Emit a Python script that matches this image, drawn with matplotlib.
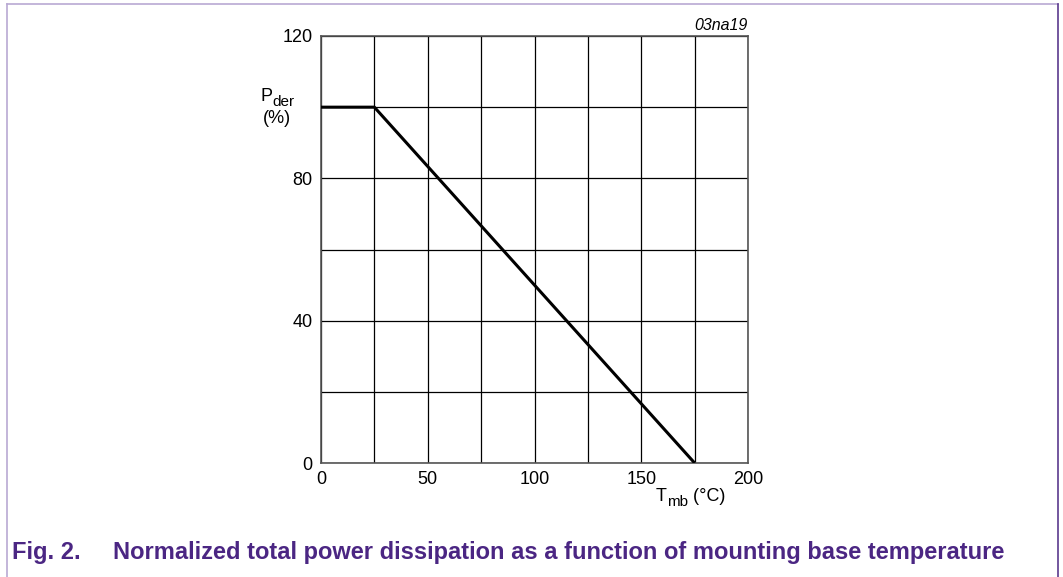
import matplotlib
matplotlib.use("Agg")
import matplotlib.pyplot as plt
from matplotlib.lines import Line2D

plt.rcParams['font.family'] = ['Liberation Sans', 'DejaVu Sans']

# Data
tmb = [0, 25, 175]
pder = [100, 100, 0]
x_ticks = [0, 50, 100, 150, 200]
y_ticks = [0, 40, 80, 120]
x_grid = [0, 25, 50, 75, 100, 125, 150, 175, 200]
y_grid = [0, 20, 40, 60, 80, 100, 120]

W, H = 1063, 577
fig = plt.figure(figsize=(W / 100, H / 100), dpi=100)
ax = fig.add_axes([321 / W, 1 - 463 / H, (748 - 321) / W, (463 - 36) / H])

ax.set_xlim(0, 200)
ax.set_ylim(0, 120)
for g in x_grid:
    ax.axvline(g, color='black', lw=0.9, zorder=1)
for g in y_grid:
    ax.axhline(g, color='black', lw=0.9, zorder=1)
ax.plot(tmb, pder, color='black', lw=2.2, zorder=3, solid_capstyle='butt')

ax.set_xticks(x_ticks)
ax.set_yticks(y_ticks)
ax.tick_params(length=0, labelsize=13, pad=6, colors='black')
for s in ax.spines.values():
    s.set_color('#555555')
    s.set_linewidth(1.2)

renderer = fig.canvas.get_renderer()


def px(x, y):
    return x / W, 1 - y / H


def sub_label(x_left, baseline, main, sub, rest, size=13, subsize=11, drop=5):
    t = fig.text(*px(x_left, baseline), main, fontsize=size, ha='left', va='baseline')
    w = t.get_window_extent(renderer).width
    x = x_left + w
    t2 = fig.text(*px(x, baseline + drop), sub, fontsize=subsize, ha='left', va='baseline')
    x += t2.get_window_extent(renderer).width
    if rest:
        fig.text(*px(x, baseline), rest, fontsize=size, ha='left', va='baseline')


sub_label(260, 101, 'P', 'der', '')
fig.text(*px(277, 123), '(%)', fontsize=13, ha='center', va='baseline')
sub_label(656, 501, 'T', 'mb', ' (°C)')
fig.text(*px(748, 30), '03na19', fontsize=11.5, style='italic', ha='right', va='baseline')

# Frame
fig.add_artist(Line2D([7 / W, 1058 / W], [1 - 4 / H, 1 - 4 / H], color='#b9a9d3', lw=1.2))
fig.add_artist(Line2D([7 / W, 7 / W], [0, 1 - 4 / H], color='#b9a9d3', lw=1.2))
fig.add_artist(Line2D([1058 / W, 1058 / W], [0, 1 - 4 / H], color='#5b3a8e', lw=1.2))

cap_color = '#4b2683'
fig.text(12 / W, 1 - 553 / H, 'Fig. 2.', color=cap_color, fontsize=17,
         fontweight='bold', va='center', ha='left')
fig.text(113 / W, 1 - 553 / H,
         'Normalized total power dissipation as a function of mounting base temperature',
         color=cap_color, fontsize=17, fontweight='bold', va='center', ha='left')

fig.savefig('out.png', dpi=100)
